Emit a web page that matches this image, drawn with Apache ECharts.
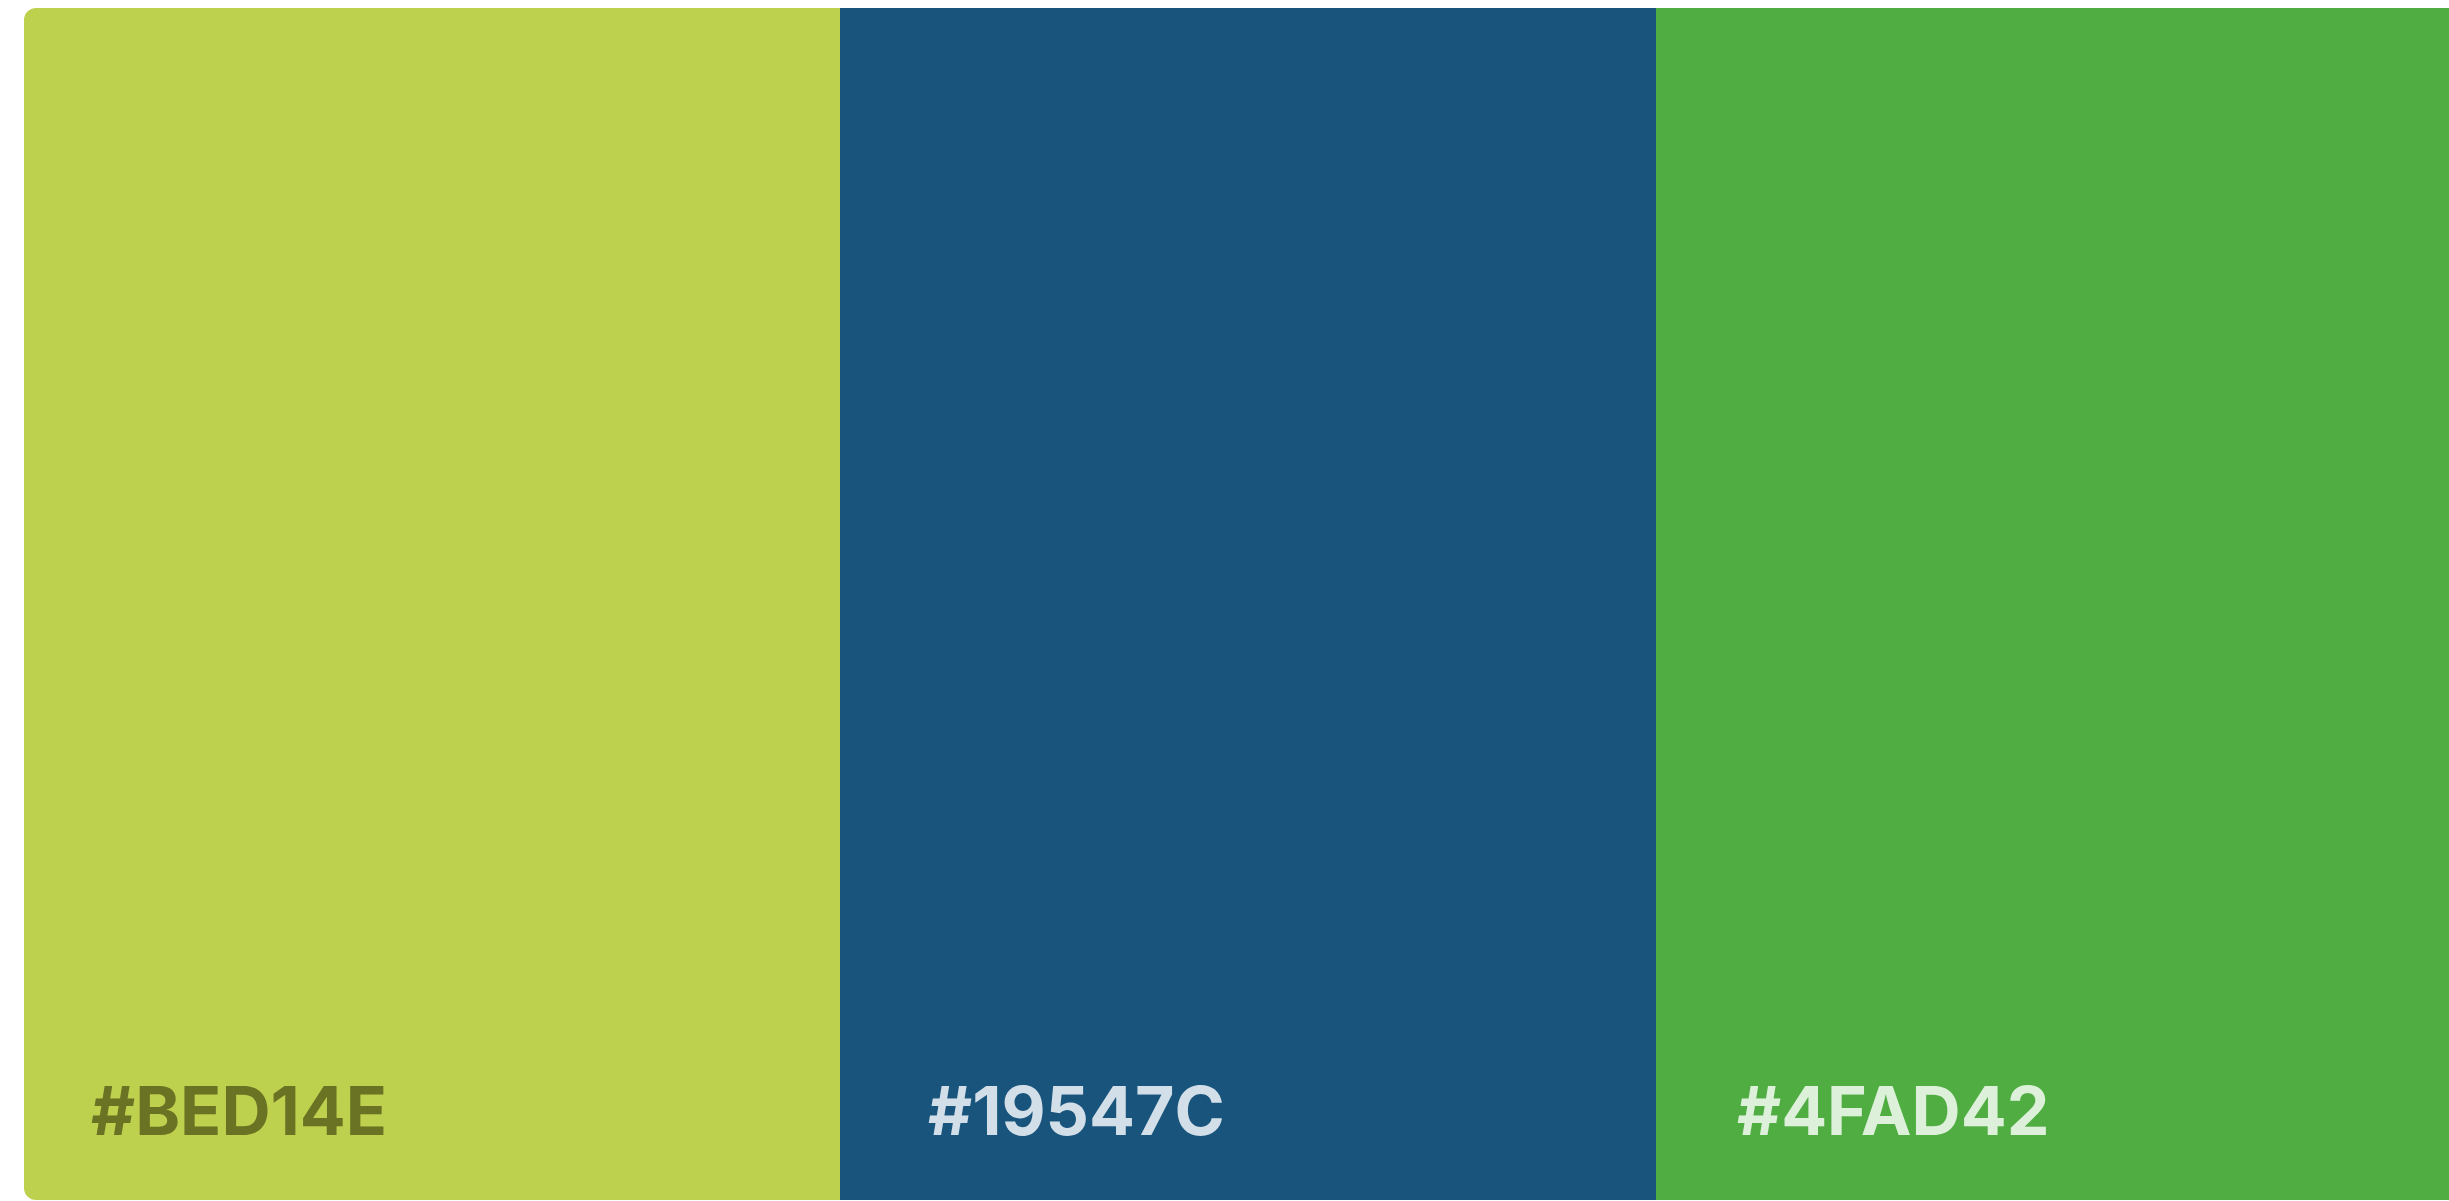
<!DOCTYPE html>
<html>
<head>
<meta charset="utf-8">
<script src="https://cdn.jsdelivr.net/npm/echarts@6/dist/echarts.min.js"></script>
<style>
html,body{margin:0;padding:0;background:#ffffff;}
#chart{width:2449px;height:1201px;}
</style>
</head>
<body>
<div id="chart"></div>
<script>
const swatches = ['#BED14E', '#19547C', '#4FAD42'];
const swatchValues = [1, 1, 1];
const labelTexts = ['#BED14E', '#19547C', '#4FAD42'];

const textColors = ['#6A7224', '#D2DEE8', '#DDF0DA'];
const labelInsetX = [67, 88, 81];
const radii = [[12, 0, 0, 12], [0, 0, 0, 0], [0, 12, 12, 0]];

const chart = echarts.init(document.getElementById('chart'), null, {renderer: 'canvas'});

const data = swatchValues.map((v, i) => ({
  value: v,
  itemStyle: { color: swatches[i], borderRadius: radii[i] },
  label: {
    show: true,
    formatter: labelTexts[i],
    position: [labelInsetX[i], 1107],
    align: 'left',
    verticalAlign: 'middle',
    color: textColors[i],
    fontFamily: 'Inter',
    fontWeight: 700,
    fontSize: 68,
    lineHeight: 68
  }
}));

chart.setOption({
  backgroundColor: '#ffffff',
  animation: false,
  grid: { left: 24, top: 8, width: 2448, height: 1192, containLabel: false, outerBoundsMode: 'none' },
  xAxis: {
    type: 'category',
    data: swatches,
    show: false,
    boundaryGap: true
  },
  yAxis: {
    type: 'value',
    min: 0,
    max: 1,
    show: false
  },
  series: [{
    type: 'bar',
    data: data,
    barWidth: '100%',
    barCategoryGap: 0
  }]
});
</script>
</body>
</html>
